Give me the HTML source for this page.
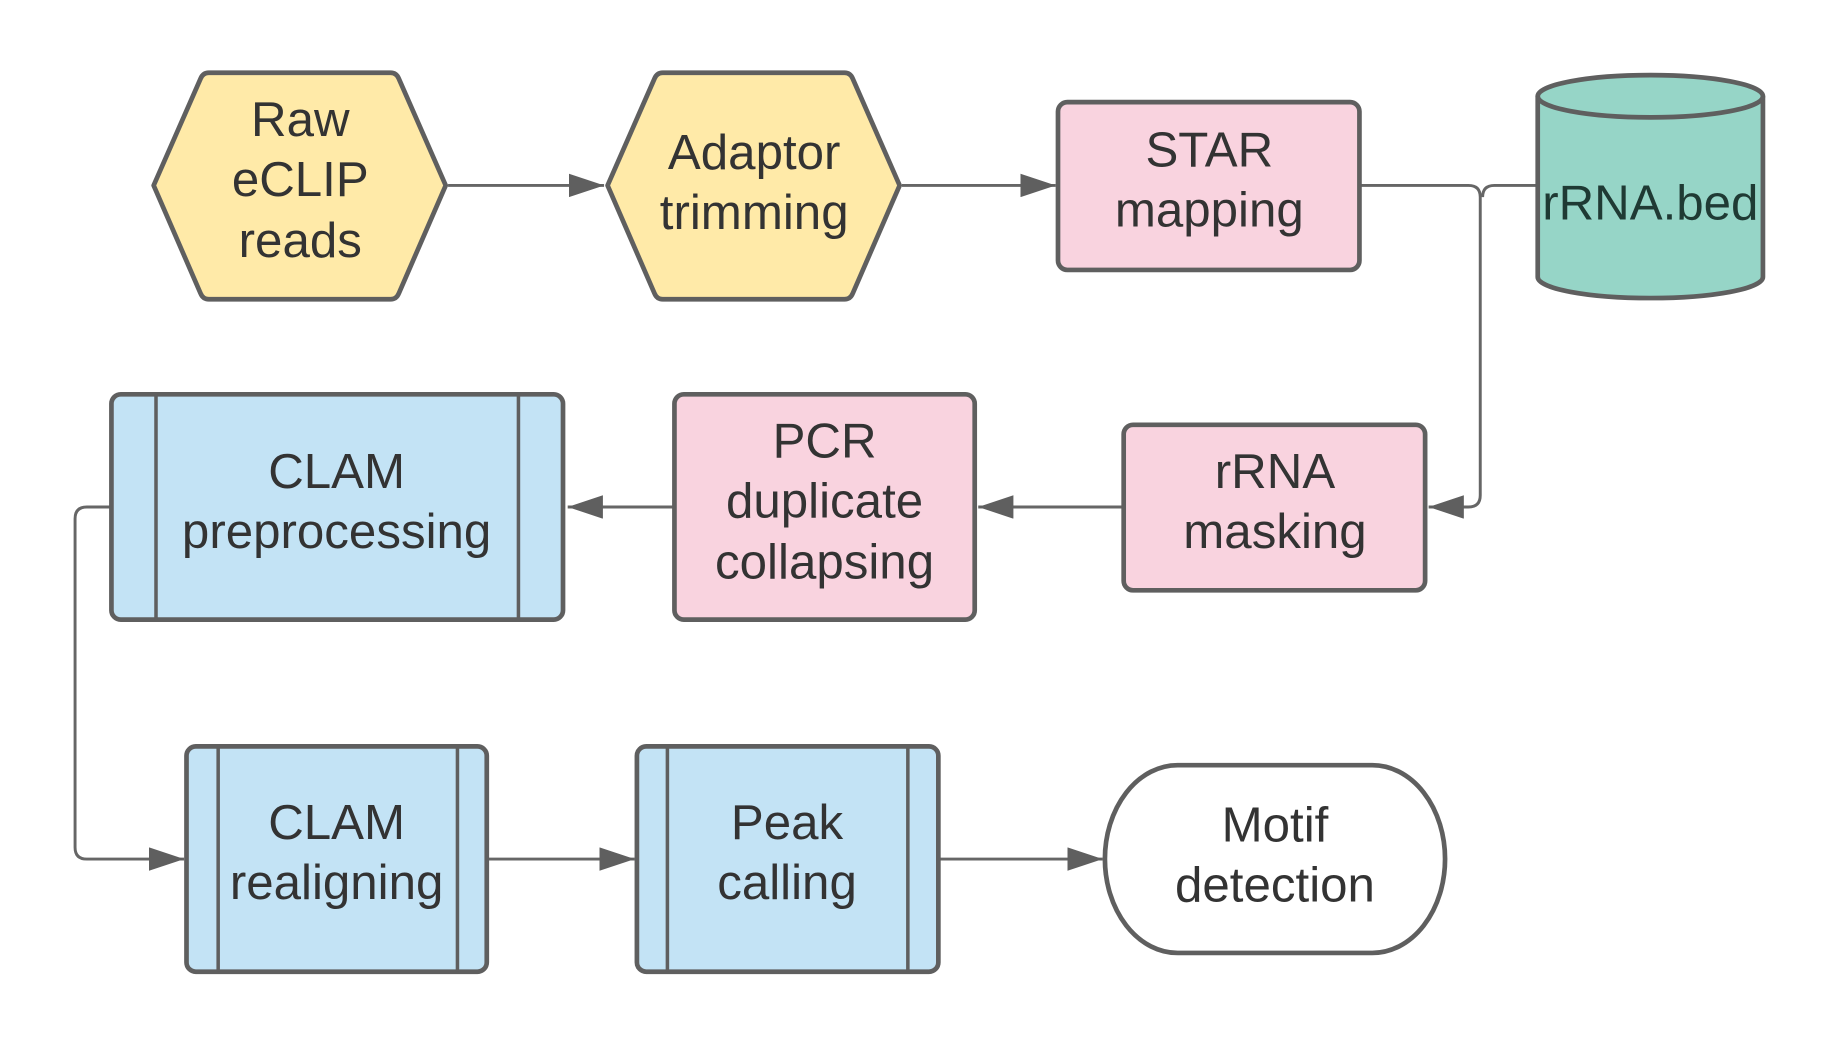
<!DOCTYPE html>
<html><head><meta charset="utf-8"><style>html,body{margin:0;padding:0;background:#fff}svg{display:block}</style></head>
<body>
<svg width="1838" height="1048" viewBox="0 0 1567 893" preserveAspectRatio="none" xmlns="http://www.w3.org/2000/svg">
<defs>
<marker id="b" viewBox="0 0 30 20" refX="30" refY="10" markerWidth="30" markerHeight="20" markerUnits="userSpaceOnUse" orient="auto"><path d="M0,0 L30,10 L0,20 z" fill="#5f5f5f"/></marker></defs>
<g fill="none" stroke="#666" stroke-width="2.5">
<path d="M382,158 H515" marker-end="url(#b)"/>
<path d="M769,158 H900" marker-end="url(#b)"/>
<path d="M1159,158 H1252 Q1262,158 1262,168 V422 Q1262,432 1252,432 H1218" marker-end="url(#b)"/>
<path d="M1310,158 H1274 Q1264,158 1264,168"/>
<path d="M958,432 H834" marker-end="url(#b)"/>
<path d="M575,432 H484" marker-end="url(#b)"/>
<path d="M95,432 H74 Q64,432 64,442 V722 Q64,732 74,732 H157" marker-end="url(#b)"/>
<path d="M415,732 H541" marker-end="url(#b)"/>
<path d="M800,732 H940" marker-end="url(#b)"/>
</g>
<g stroke="#5f5f5f" stroke-width="4" stroke-linejoin="round">
<path d="M178,62 H333 Q338,62 340,67 L380,158 L340,250 Q338,255 333,255 H178 Q173,255 171,250 L131,158 L171,67 Q173,62 178,62 Z" fill="#ffeaa8"/>
<path d="M565,62 H720 Q725,62 727,67 L767,158 L727,250 Q725,255 720,255 H565 Q560,255 558,250 L518,158 L558,67 Q560,62 565,62 Z" fill="#ffeaa8"/>
<rect x="902" y="87" width="257" height="143" rx="8" fill="#f9d3df"/>
<path d="M1311,82 V236 A96,18 0 0 0 1503,236 V82 A96,18 0 0 0 1311,82 Z" fill="#96d5c7"/>
<path d="M1311,82 A96,18 0 0 0 1503,82" fill="none"/>
<rect x="958" y="362" width="257" height="141" rx="8" fill="#f9d3df"/>
<rect x="575" y="336" width="256" height="192" rx="8" fill="#f9d3df"/>
<rect x="95" y="336" width="385" height="192" rx="8" fill="#c3e3f5"/>
<rect x="159" y="636" width="256" height="192" rx="8" fill="#c3e3f5"/>
<rect x="543" y="636" width="257" height="192" rx="8" fill="#c3e3f5"/>
<rect x="942" y="652" width="290" height="160" rx="62" ry="80" fill="#fff"/>
</g>
<g stroke="#5f5f5f" stroke-width="3">
<path d="M133,336 V528 M442,336 V528 M186,636 V828 M390,636 V828 M569,636 V828 M774,636 V828"/>
</g>
<g font-family="'Liberation Sans',sans-serif" font-size="42" fill="#333" text-anchor="middle">
<text x="256" y="116">Raw</text><text x="256" y="167">eCLIP</text><text x="256" y="219">reads</text>
<text x="643" y="144">Adaptor</text><text x="643" y="195">trimming</text>
<text x="1031" y="142">STAR</text><text x="1031" y="193">mapping</text>
<text x="1407" y="187" fill="#1f3a34">rRNA.bed</text>
<text x="1087" y="416">rRNA</text><text x="1087" y="467">masking</text>
<text x="703" y="390">PCR</text><text x="703" y="441">duplicate</text><text x="703" y="493">collapsing</text>
<text x="287" y="416">CLAM</text><text x="287" y="467">preprocessing</text>
<text x="287" y="715">CLAM</text><text x="287" y="766">realigning</text>
<text x="671" y="715">Peak</text><text x="671" y="766">calling</text>
<text x="1087" y="717">Motif</text><text x="1087" y="768">detection</text>
</g>
</svg>
</body></html>
